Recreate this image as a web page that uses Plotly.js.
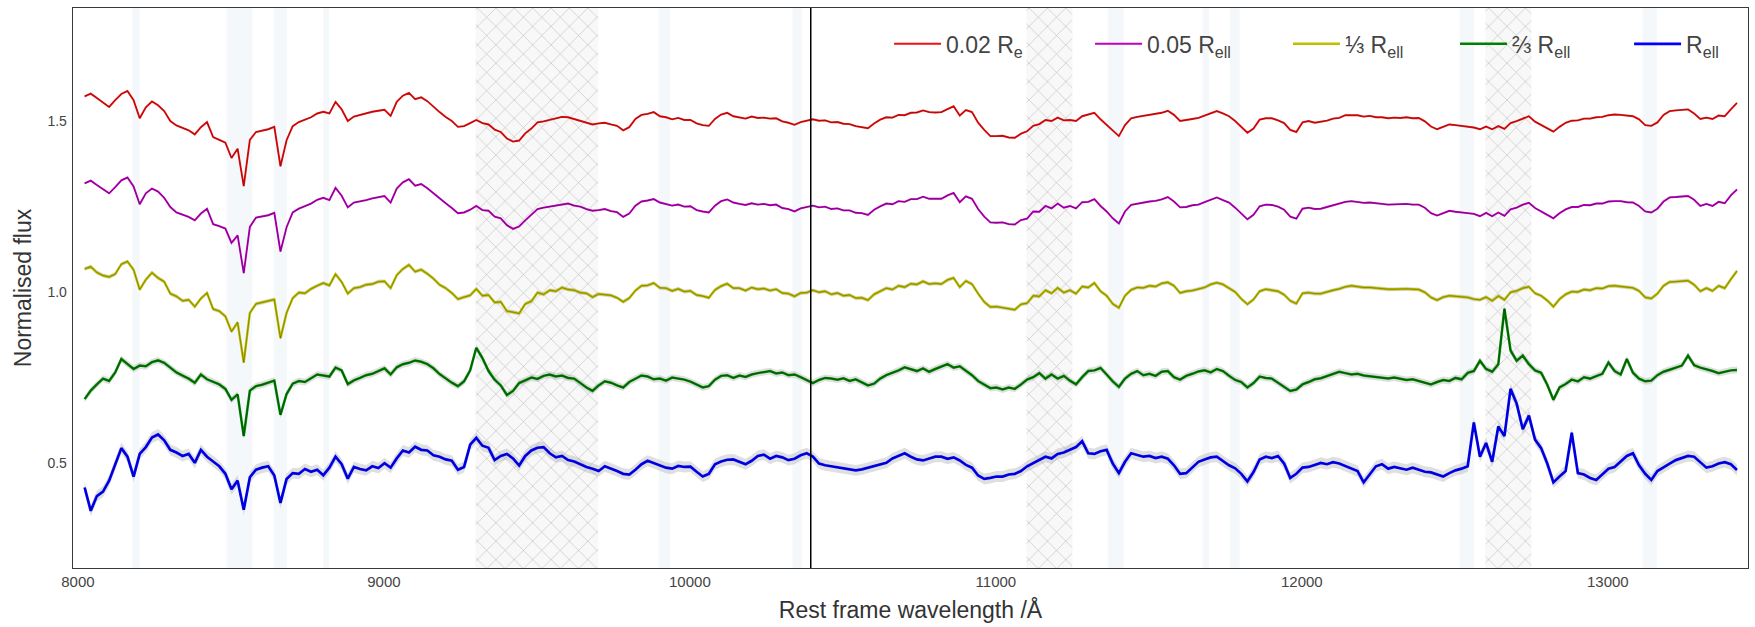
<!DOCTYPE html>
<html>
<head>
<meta charset="utf-8">
<script src="https://cdn.plot.ly/plotly-3.0.1.min.js"></script>
<style>html,body{margin:0;padding:0;background:#fff;}#chart{width:1755px;height:627px;}</style>
</head>
<body>
<div id="chart"></div>
<script>
// ---------------- data ----------------
const wavelength = [
8022,8042,8062,8082,8102,8122,8142,8162,8182,8202,
8222,8242,8262,8282,8302,8322,8342,8362,8382,8402,
8422,8442,8462,8482,8502,8522,8542,8562,8582,8602,
8622,8642,8662,8682,8702,8722,8742,8762,8782,8802,
8822,8842,8862,8882,8902,8922,8942,8962,8982,9002,
9022,9042,9062,9082,9102,9122,9142,9162,9182,9202,
9222,9242,9262,9282,9302,9322,9342,9362,9382,9402,
9422,9442,9462,9482,9502,9522,9542,9562,9582,9602,
9622,9642,9662,9682,9702,9722,9742,9762,9782,9802,
9822,9842,9862,9882,9902,9922,9942,9962,9982,10002,
10022,10042,10062,10082,10102,10122,10142,10162,10182,10202,
10222,10242,10262,10282,10302,10322,10342,10362,10382,10402,
10422,10442,10462,10482,10502,10522,10542,10562,10582,10602,
10622,10642,10662,10682,10702,10722,10742,10762,10782,10802,
10822,10842,10862,10882,10902,10922,10942,10962,10982,11002,
11022,11042,11062,11082,11102,11122,11142,11162,11182,11202,
11222,11242,11262,11282,11302,11322,11342,11362,11382,11402,
11422,11442,11462,11482,11502,11522,11542,11562,11582,11602,
11622,11642,11662,11682,11702,11722,11742,11762,11782,11802,
11822,11842,11862,11882,11902,11922,11942,11962,11982,12002,
12022,12042,12062,12082,12102,12122,12142,12162,12182,12202,
12222,12242,12262,12282,12302,12322,12342,12362,12382,12402,
12422,12442,12462,12482,12502,12522,12542,12562,12582,12602,
12622,12642,12662,12682,12702,12722,12742,12762,12782,12802,
12822,12842,12862,12882,12902,12922,12942,12962,12982,13002,
13022,13042,13062,13082,13102,13122,13142,13162,13182,13202,
13222,13242,13262,13282,13302,13322,13342,13362,13382,13402,
13422];

const flux002Re = [
1.572,1.580,1.567,1.553,1.541,1.561,1.579,1.588,1.561,1.508,
1.540,1.557,1.546,1.529,1.500,1.487,1.479,1.473,1.461,1.482,
1.497,1.453,1.445,1.437,1.392,1.419,1.310,1.445,1.468,1.472,
1.476,1.483,1.368,1.444,1.485,1.497,1.503,1.511,1.522,1.527,
1.522,1.556,1.534,1.500,1.513,1.518,1.521,1.527,1.530,1.533,
1.515,1.556,1.574,1.582,1.564,1.569,1.558,1.541,1.526,1.512,
1.500,1.483,1.485,1.494,1.503,1.494,1.490,1.475,1.468,1.449,
1.440,1.443,1.464,1.478,1.496,1.499,1.504,1.507,1.512,1.511,
1.506,1.502,1.496,1.490,1.493,1.495,1.490,1.486,1.473,1.482,
1.506,1.518,1.521,1.526,1.514,1.511,1.505,1.509,1.503,1.503,
1.493,1.488,1.486,1.506,1.519,1.524,1.514,1.511,1.507,1.513,
1.509,1.510,1.507,1.508,1.499,1.495,1.489,1.497,1.501,1.505,
1.501,1.502,1.496,1.497,1.492,1.491,1.485,1.483,1.479,1.493,
1.504,1.511,1.510,1.518,1.517,1.524,1.525,1.531,1.526,1.525,
1.526,1.535,1.543,1.516,1.532,1.526,1.495,1.474,1.456,1.456,
1.457,1.452,1.451,1.463,1.470,1.486,1.491,1.503,1.500,1.510,
1.502,1.503,1.500,1.514,1.518,1.524,1.505,1.488,1.470,1.456,
1.488,1.508,1.512,1.515,1.518,1.519,1.524,1.530,1.518,1.500,
1.502,1.506,1.509,1.515,1.522,1.529,1.522,1.514,1.500,1.482,
1.466,1.478,1.504,1.508,1.508,1.502,1.494,1.474,1.468,1.496,
1.500,1.495,1.497,1.501,1.507,1.509,1.517,1.518,1.517,1.513,
1.515,1.511,1.511,1.508,1.510,1.509,1.511,1.508,1.509,1.499,
1.484,1.476,1.484,1.490,1.488,1.486,1.484,1.481,1.476,1.484,
1.476,1.485,1.477,1.494,1.500,1.508,1.514,1.498,1.488,1.478,
1.469,1.483,1.495,1.501,1.502,1.507,1.507,1.511,1.512,1.517,
1.519,1.518,1.516,1.514,1.505,1.488,1.486,1.496,1.518,1.529,
1.531,1.532,1.534,1.522,1.506,1.510,1.506,1.516,1.514,1.534,
1.553];

const flux005Rell = [
1.318,1.326,1.313,1.301,1.289,1.307,1.327,1.335,1.309,1.257,
1.289,1.303,1.294,1.276,1.249,1.233,1.227,1.220,1.210,1.230,
1.244,1.199,1.193,1.186,1.144,1.166,1.056,1.191,1.218,1.221,
1.225,1.232,1.119,1.190,1.233,1.244,1.251,1.259,1.270,1.276,
1.269,1.305,1.282,1.248,1.262,1.265,1.269,1.274,1.278,1.281,
1.262,1.303,1.321,1.330,1.311,1.316,1.304,1.289,1.273,1.260,
1.246,1.231,1.233,1.241,1.252,1.240,1.238,1.221,1.216,1.196,
1.185,1.192,1.210,1.226,1.243,1.247,1.250,1.255,1.258,1.259,
1.253,1.250,1.243,1.238,1.240,1.243,1.237,1.234,1.220,1.230,
1.253,1.265,1.268,1.272,1.262,1.258,1.253,1.256,1.250,1.251,
1.240,1.236,1.233,1.253,1.266,1.271,1.262,1.258,1.255,1.260,
1.256,1.258,1.254,1.256,1.246,1.243,1.236,1.245,1.248,1.253,
1.248,1.250,1.243,1.245,1.239,1.239,1.232,1.231,1.226,1.241,
1.251,1.259,1.257,1.266,1.264,1.272,1.272,1.279,1.273,1.273,
1.273,1.283,1.290,1.263,1.280,1.273,1.243,1.221,1.204,1.203,
1.204,1.199,1.198,1.211,1.215,1.236,1.235,1.252,1.245,1.259,
1.247,1.252,1.245,1.263,1.264,1.272,1.252,1.236,1.216,1.201,
1.236,1.255,1.259,1.263,1.265,1.267,1.271,1.278,1.265,1.248,
1.249,1.254,1.256,1.263,1.269,1.277,1.269,1.262,1.247,1.229,
1.213,1.226,1.251,1.256,1.255,1.250,1.241,1.221,1.215,1.244,
1.247,1.243,1.244,1.249,1.254,1.257,1.264,1.266,1.264,1.261,
1.262,1.259,1.258,1.256,1.257,1.257,1.258,1.256,1.256,1.247,
1.231,1.224,1.231,1.238,1.235,1.234,1.231,1.229,1.222,1.232,
1.222,1.233,1.223,1.242,1.247,1.256,1.261,1.246,1.235,1.226,
1.216,1.231,1.242,1.249,1.249,1.255,1.254,1.259,1.259,1.265,
1.266,1.266,1.263,1.262,1.252,1.236,1.233,1.244,1.265,1.277,
1.278,1.280,1.281,1.270,1.252,1.258,1.252,1.264,1.260,1.283,
1.300];

const fluxThirdRell = [
1.068,1.075,1.058,1.049,1.045,1.053,1.082,1.090,1.066,1.008,
1.037,1.057,1.042,1.031,0.996,0.988,0.975,0.978,0.958,0.982,
0.998,0.951,0.945,0.930,0.885,0.912,0.795,0.940,0.966,0.970,
0.975,0.979,0.866,0.940,0.983,0.999,0.997,1.010,1.019,1.027,
1.020,1.053,1.030,0.996,1.012,1.015,1.022,1.024,1.031,1.032,
1.012,1.050,1.068,1.080,1.060,1.066,1.054,1.040,1.022,1.012,
0.998,0.980,0.986,0.991,1.010,0.990,0.992,0.970,0.972,0.945,
0.942,0.938,0.966,0.974,0.999,0.994,1.006,1.003,1.014,1.008,
1.006,0.999,0.997,0.986,0.995,0.993,0.991,0.984,0.972,0.983,
1.005,1.019,1.020,1.027,1.013,1.012,1.004,1.010,1.002,1.004,
0.992,0.989,0.984,1.007,1.018,1.025,1.012,1.012,1.005,1.014,
1.009,1.011,1.005,1.009,0.998,0.996,0.988,0.998,0.999,1.006,
1.000,1.003,0.994,0.998,0.990,0.992,0.983,0.984,0.977,0.994,
1.003,1.012,1.008,1.019,1.015,1.025,1.023,1.032,1.024,1.026,
1.024,1.036,1.042,1.015,1.033,1.024,0.996,0.972,0.957,0.958,
0.955,0.953,0.949,0.965,0.968,0.990,0.988,1.006,0.997,1.013,
0.999,1.006,0.996,1.017,1.014,1.027,1.003,0.990,0.966,0.955,
0.990,1.007,1.014,1.013,1.019,1.017,1.026,1.029,1.019,0.998,
1.003,1.005,1.010,1.014,1.023,1.028,1.023,1.012,1.001,0.981,
0.965,0.979,1.003,1.009,1.007,1.003,0.993,0.975,0.967,0.997,
0.999,0.996,0.996,1.002,1.006,1.010,1.016,1.019,1.016,1.014,
1.014,1.012,1.010,1.009,1.009,1.010,1.010,1.009,1.008,1.000,
0.985,0.977,0.986,0.990,0.989,0.986,0.985,0.980,0.978,0.986,
0.975,0.989,0.978,1.000,1.004,1.012,1.016,0.997,0.990,0.976,
0.958,0.980,0.994,1.002,1.001,1.008,1.006,1.012,1.011,1.018,
1.019,1.017,1.016,1.013,1.004,0.985,0.982,0.996,1.019,1.030,
1.031,1.033,1.034,1.022,1.003,1.012,1.004,1.019,1.012,1.038,
1.062];

const fluxTwoThirdsRell = [
0.688,0.713,0.731,0.748,0.741,0.766,0.805,0.790,0.776,0.786,
0.784,0.796,0.801,0.794,0.780,0.766,0.757,0.748,0.736,0.760,
0.746,0.738,0.731,0.718,0.686,0.702,0.580,0.713,0.726,0.730,
0.736,0.742,0.642,0.703,0.733,0.741,0.738,0.748,0.760,0.757,
0.754,0.780,0.772,0.732,0.743,0.750,0.758,0.762,0.770,0.778,
0.760,0.781,0.790,0.794,0.801,0.797,0.790,0.778,0.761,0.748,
0.736,0.726,0.740,0.772,0.838,0.808,0.770,0.745,0.728,0.700,
0.712,0.735,0.742,0.751,0.747,0.756,0.760,0.754,0.757,0.750,
0.748,0.734,0.722,0.712,0.728,0.740,0.736,0.728,0.722,0.738,
0.748,0.757,0.754,0.746,0.748,0.742,0.751,0.749,0.745,0.739,
0.731,0.722,0.726,0.745,0.756,0.758,0.750,0.757,0.753,0.760,
0.764,0.766,0.770,0.763,0.766,0.758,0.760,0.752,0.744,0.735,
0.744,0.750,0.748,0.745,0.749,0.741,0.746,0.736,0.728,0.733,
0.748,0.758,0.764,0.772,0.781,0.776,0.770,0.778,0.768,0.776,
0.782,0.790,0.780,0.784,0.771,0.758,0.741,0.730,0.720,0.722,
0.716,0.722,0.718,0.731,0.745,0.752,0.764,0.748,0.760,0.748,
0.756,0.742,0.731,0.752,0.770,0.772,0.779,0.760,0.740,0.724,
0.748,0.762,0.770,0.758,0.762,0.756,0.768,0.770,0.752,0.745,
0.756,0.762,0.769,0.772,0.766,0.776,0.770,0.756,0.744,0.738,
0.722,0.735,0.754,0.750,0.748,0.736,0.725,0.712,0.716,0.731,
0.738,0.746,0.749,0.756,0.762,0.768,0.764,0.760,0.762,0.757,
0.755,0.752,0.750,0.748,0.751,0.747,0.744,0.746,0.741,0.738,
0.731,0.738,0.744,0.741,0.750,0.746,0.765,0.770,0.800,0.776,
0.768,0.790,0.952,0.830,0.800,0.815,0.790,0.772,0.765,0.730,
0.686,0.722,0.732,0.745,0.740,0.752,0.748,0.755,0.762,0.795,
0.770,0.760,0.805,0.765,0.748,0.740,0.742,0.758,0.768,0.774,
0.780,0.786,0.815,0.787,0.780,0.776,0.770,0.764,0.768,0.772,
0.773];

const fluxRell = [
0.430,0.362,0.405,0.418,0.450,0.495,0.545,0.520,0.462,0.528,
0.548,0.576,0.585,0.568,0.540,0.532,0.522,0.528,0.502,0.540,
0.520,0.506,0.492,0.470,0.425,0.450,0.365,0.460,0.482,0.488,
0.492,0.465,0.385,0.455,0.472,0.470,0.484,0.476,0.482,0.466,
0.488,0.520,0.498,0.456,0.490,0.484,0.480,0.492,0.487,0.501,
0.488,0.515,0.538,0.532,0.549,0.540,0.538,0.524,0.520,0.512,
0.508,0.482,0.490,0.555,0.575,0.552,0.546,0.510,0.522,0.528,
0.515,0.494,0.522,0.538,0.546,0.548,0.530,0.518,0.522,0.510,
0.506,0.498,0.490,0.485,0.478,0.492,0.486,0.478,0.470,0.468,
0.482,0.498,0.508,0.502,0.496,0.488,0.485,0.493,0.490,0.491,
0.476,0.462,0.470,0.498,0.506,0.511,0.512,0.504,0.498,0.508,
0.522,0.526,0.514,0.522,0.518,0.510,0.514,0.524,0.530,0.520,
0.500,0.495,0.492,0.490,0.488,0.484,0.480,0.483,0.488,0.494,
0.498,0.502,0.515,0.522,0.530,0.520,0.512,0.509,0.515,0.520,
0.520,0.514,0.518,0.509,0.496,0.488,0.465,0.455,0.458,0.462,
0.462,0.468,0.470,0.478,0.492,0.502,0.510,0.520,0.515,0.528,
0.532,0.540,0.548,0.565,0.530,0.528,0.536,0.540,0.500,0.472,
0.505,0.530,0.526,0.520,0.522,0.516,0.520,0.514,0.495,0.470,
0.472,0.490,0.505,0.512,0.518,0.520,0.508,0.495,0.486,0.470,
0.448,0.475,0.512,0.520,0.516,0.522,0.500,0.458,0.470,0.488,
0.490,0.495,0.502,0.498,0.504,0.500,0.492,0.486,0.478,0.445,
0.468,0.492,0.498,0.485,0.490,0.486,0.482,0.488,0.481,0.476,
0.474,0.468,0.462,0.472,0.480,0.485,0.492,0.620,0.520,0.560,
0.505,0.608,0.580,0.718,0.675,0.600,0.640,0.570,0.545,0.500,
0.445,0.462,0.478,0.590,0.472,0.468,0.458,0.452,0.470,0.485,
0.490,0.505,0.522,0.530,0.495,0.470,0.452,0.478,0.490,0.500,
0.510,0.516,0.522,0.520,0.505,0.488,0.492,0.500,0.504,0.498,
0.481];

const seriesLabels = ['0.02 R<sub>e</sub>', '0.05 R<sub>ell</sub>', '⅓ R<sub>ell</sub>', '⅔ R<sub>ell</sub>', 'R<sub>ell</sub>'];
const seriesFlux = [flux002Re, flux005Rell, fluxThirdRell, fluxTwoThirdsRell, fluxRell];
const fluxError = [0.003, 0.003, 0.006, 0.010, 0.016];

const maskedRanges = [[9300, 9700], [11100, 11250], [12600, 12750]];
const skylineBands = [[8178, 8202], [8485, 8570], [8640, 8683], [8802, 8821], [9897, 9935], [10335, 10366],
                      [11366, 11418], [11675, 11697], [11765, 11797], [12516, 12563], [13113, 13160]];
const armSplit = 10395;

const xTicks = [8000, 9000, 10000, 11000, 12000, 13000];
const yTicks = [0.5, 1.0, 1.5];
const xRange = [7984, 13458];
const yRange = [0.195, 1.83];

// ---------------- styling ----------------
const seriesColors = ['#f01010', '#bf00bf', '#bfbf00', '#008000', '#0000ff'];
const seriesWidths = [1.9, 1.9, 2.4, 2.5, 2.7];
const legendNames = ['legend', 'legend2', 'legend3', 'legend4', 'legend5'];
const legendX = [0.4872, 0.6072, 0.7254, 0.8251, 0.9290];

const traces = [];

maskedRanges.forEach(function (r) {
  traces.push({
    type: 'scatter', mode: 'lines',
    x: [r[0], r[0], r[1], r[1], r[0]],
    y: [yRange[0], yRange[1], yRange[1], yRange[0], yRange[0]],
    line: {width: 0}, fill: 'toself', fillcolor: 'rgba(240,240,240,0.5)',
    fillpattern: {shape: 'x', fgcolor: 'rgba(135,135,135,0.6)', bgcolor: 'rgba(238,238,238,0.4)', size: 13, solidity: 0.08},
    hoverinfo: 'skip', showlegend: false
  });
});

seriesFlux.forEach(function (flux, i) {
  const err = fluxError[i];
  traces.push({
    type: 'scatter', mode: 'lines', x: wavelength, y: flux.map(function (v) { return v - err; }),
    line: {width: 0}, hoverinfo: 'skip', showlegend: false
  });
  traces.push({
    type: 'scatter', mode: 'lines', x: wavelength, y: flux.map(function (v) { return v + err; }),
    line: {width: 0}, fill: 'tonexty', fillcolor: 'rgba(150,150,150,0.3)', hoverinfo: 'skip', showlegend: false
  });
});

seriesFlux.forEach(function (flux, i) {
  traces.push({
    type: 'scatter', mode: 'lines', x: wavelength, y: flux, name: seriesLabels[i],
    line: {color: seriesColors[i], width: seriesWidths[i]}, legend: legendNames[i]
  });
  traces.push({
    type: 'scatter', mode: 'lines', x: wavelength, y: flux,
    line: {color: 'rgba(0,0,0,0.4)', width: 0.7}, hoverinfo: 'skip', showlegend: false
  });
});

const shapes = skylineBands.map(function (b) {
  return {type: 'rect', xref: 'x', yref: 'paper', x0: b[0], x1: b[1], y0: 0, y1: 1,
          fillcolor: 'rgba(176,198,224,0.12)', line: {width: 0}, layer: 'below'};
});
shapes.push({type: 'line', xref: 'x', yref: 'paper', x0: armSplit, x1: armSplit, y0: 0, y1: 1,
             line: {color: '#000', width: 1.5}});

const layout = {
  width: 1755, height: 627,
  margin: {l: 73, r: 7, t: 8, b: 59},
  paper_bgcolor: '#fff', plot_bgcolor: '#fff',
  font: {family: '"Liberation Sans", Arial, sans-serif', color: '#333'},
  xaxis: {
    range: xRange, tickvals: xTicks, tickformat: 'd', ticks: '', showgrid: false, zeroline: false,
    showline: true, mirror: true, linecolor: '#3a3a3a', linewidth: 1.3,
    tickfont: {size: 15, color: '#444'},
    title: {text: 'Rest frame wavelength /Å', font: {size: 23, color: '#333'}, standoff: 12}
  },
  yaxis: {
    range: yRange, tickvals: yTicks, tickformat: '.1f', ticks: '', showgrid: false, zeroline: false,
    showline: true, mirror: true, linecolor: '#3a3a3a', linewidth: 1.3,
    tickfont: {size: 14, color: '#444'}, ticklabelstandoff: 2,
    title: {text: 'Normalised flux', font: {size: 23, color: '#333'}, standoff: 9}
  },
  shapes: shapes,
  showlegend: true
};
legendNames.forEach(function (ln, i) {
  layout[ln] = {
    x: legendX[i], y: 0.936, xref: 'paper', yref: 'paper', xanchor: 'left', yanchor: 'middle',
    orientation: 'h', bgcolor: 'rgba(0,0,0,0)', borderwidth: 0, itemwidth: 47,
    font: {size: 23, color: '#444'}
  };
});

Plotly.newPlot('chart', traces, layout, {displayModeBar: false, staticPlot: true});
</script>
</body>
</html>
